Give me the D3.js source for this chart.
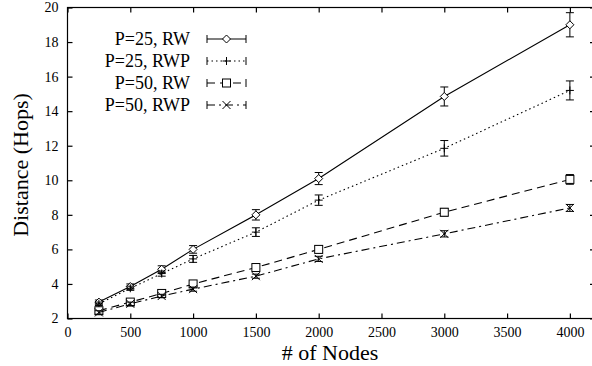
<!DOCTYPE html>
<html>
<head>
<meta charset="utf-8">
<script src="https://cdn.jsdelivr.net/npm/d3@7"></script>
<style>
  body { margin: 0; background: #fff; }
  svg { display: block; font-family: "Liberation Serif", "Times New Roman", serif; }
</style>
</head>
<body>
<svg id="chart"></svg>
<script>
//------ Données ------
const nodes = [250, 500, 750, 1000, 1500, 2000, 3000, 4000]
const seriesNames = ["P=25, RW", "P=25, RWP", "P=50, RW", "P=50, RWP"]
const p25rw = [2.95, 3.85, 4.85, 6.0, 8.0, 10.1, 14.85, 19.0]
const p25rwErr = [0.12, 0.15, 0.2, 0.22, 0.3, 0.35, 0.55, 0.7]
const p25rwp = [2.85, 3.75, 4.6, 5.45, 7.0, 8.85, 11.85, 15.2]
const p25rwpErr = [0.1, 0.12, 0.15, 0.2, 0.25, 0.3, 0.45, 0.55]
const p50rw = [2.45, 2.95, 3.45, 4.0, 4.95, 6.0, 8.15, 10.05]
const p50rwErr = [0.12, 0.12, 0.12, 0.15, 0.18, 0.2, 0.22, 0.28]
const p50rwp = [2.35, 2.85, 3.3, 3.7, 4.45, 5.45, 6.9, 8.4]
const p50rwpErr = [0.1, 0.1, 0.1, 0.12, 0.12, 0.15, 0.18, 0.2]
const xTicks = [0, 500, 1000, 1500, 2000, 2500, 3000, 3500, 4000]
const yTicks = [2, 4, 6, 8, 10, 12, 14, 16, 18, 20]

const allSeries = [
  { name: seriesNames[0], values: p25rw, err: p25rwErr, dash: null, marker: "diamond" },
  { name: seriesNames[1], values: p25rwp, err: p25rwpErr, dash: "1.5,3", marker: "plus" },
  { name: seriesNames[2], values: p50rw, err: p50rwErr, dash: "8,5", marker: "square" },
  { name: seriesNames[3], values: p50rwp, err: p50rwpErr, dash: "8,4,2,4", marker: "cross" }
]

//taille du cadre
var width = 592, height = 366
var svg = d3.select("#chart").attr("width", width).attr("height", height)

var mLeft = 67.5, mRight = 595, mTop = 7.5, mBottom = 318.5

var x = d3.scaleLinear().domain([0, 4200]).range([mLeft, mRight])
var y = d3.scaleLinear().domain([2, 20]).range([mBottom, mTop])

// cadre
svg.append("rect")
    .attr("x", mLeft).attr("y", mTop)
    .attr("width", mRight - mLeft).attr("height", mBottom - mTop)
    .attr("fill", "none").attr("stroke", "#000").attr("stroke-width", 1.2)

// axes
var xAxis = svg.append("g").attr("transform", `translate(0,${mBottom})`)
    .call(d3.axisBottom(x).tickValues(xTicks).tickSize(-5).tickPadding(9).tickFormat(d3.format("d")))
var xTop = svg.append("g").attr("transform", `translate(0,${mTop})`)
    .call(d3.axisTop(x).tickValues(xTicks).tickSize(-5).tickFormat(""))
var yAxis = svg.append("g").attr("transform", `translate(${mLeft},0)`)
    .call(d3.axisLeft(y).tickValues(yTicks).tickSize(-5).tickPadding(9).tickFormat(d3.format("d")))
var yRight = svg.append("g").attr("transform", `translate(${mRight},0)`)
    .call(d3.axisRight(y).tickValues(yTicks).tickSize(-5).tickFormat(""))

;[xAxis, xTop, yAxis, yRight].forEach(g => {
    g.select(".domain").remove()
    g.selectAll("line").attr("stroke", "#000").attr("stroke-width", 1.2)
    g.selectAll("text").attr("fill", "#000")
        .style("font-family", "Liberation Serif, serif").style("font-size", "14px")
})

// titres
svg.append("text")
    .attr("x", 330).attr("y", 360)
    .attr("text-anchor", "middle")
    .style("font-size", "22px")
    .text("# of Nodes")
svg.append("text")
    .attr("transform", "translate(28,165) rotate(-90)")
    .attr("text-anchor", "middle")
    .style("font-size", "22px")
    .text("Distance (Hops)")

//-- marqueurs --
function drawMarker(g, type, cx, cy) {
    var s = 4
    if (type == "diamond") {
        g.append("path")
            .attr("d", `M${cx},${cy - s}L${cx + s},${cy}L${cx},${cy + s}L${cx - s},${cy}Z`)
            .attr("fill", "#fff").attr("stroke", "#000").attr("stroke-width", 1)
    } else if (type == "plus") {
        g.append("path")
            .attr("d", `M${cx - s},${cy}H${cx + s}M${cx},${cy - s}V${cy + s}`)
            .attr("stroke", "#000").attr("stroke-width", 1)
    } else if (type == "square") {
        g.append("rect")
            .attr("x", cx - s).attr("y", cy - s).attr("width", 2 * s).attr("height", 2 * s)
            .attr("fill", "#fff").attr("stroke", "#000").attr("stroke-width", 1)
    } else {
        g.append("path")
            .attr("d", `M${cx - s},${cy - s}L${cx + s},${cy + s}M${cx - s},${cy + s}L${cx + s},${cy - s}`)
            .attr("stroke", "#000").attr("stroke-width", 1)
    }
}

var line = d3.line().x(d => x(d[0])).y(d => y(d[1]))

allSeries.forEach(s => {
    var g = svg.append("g")
    var pts = nodes.map((n, i) => [n, s.values[i]])
    g.append("path")
        .attr("d", line(pts))
        .attr("fill", "none").attr("stroke", "#000").attr("stroke-width", 1.1)
        .attr("stroke-dasharray", s.dash)
    // barres d'erreur
    nodes.forEach((n, i) => {
        var cx = x(n), y1 = y(s.values[i] + s.err[i]), y2 = y(s.values[i] - s.err[i])
        g.append("path")
            .attr("d", `M${cx},${y1}V${y2}M${cx - 4},${y1}H${cx + 4}M${cx - 4},${y2}H${cx + 4}`)
            .attr("stroke", "#000").attr("stroke-width", 1).attr("fill", "none")
        drawMarker(g, s.marker, cx, y(s.values[i]))
    })
})

//-- légende --
allSeries.forEach((s, i) => {
    var ly = 39 + i * 22
    var g = svg.append("g")
    g.append("text")
        .attr("x", 190).attr("y", ly).attr("dy", "0.35em")
        .attr("text-anchor", "end")
        .style("font-size", "18px")
        .text(s.name)
    g.append("path")
        .attr("d", `M207,${ly}H246`)
        .attr("stroke", "#000").attr("stroke-width", 1.1)
        .attr("stroke-dasharray", s.dash)
    g.append("path")
        .attr("d", `M207,${ly - 4}V${ly + 4}M246,${ly - 4}V${ly + 4}`)
        .attr("stroke", "#000").attr("stroke-width", 1)
    drawMarker(g, s.marker, 226.5, ly)
})
</script>
</body>
</html>
